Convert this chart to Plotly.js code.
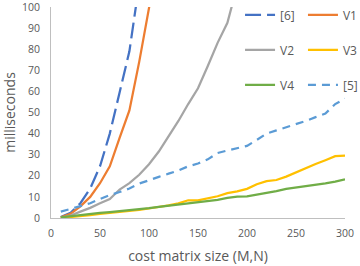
<!DOCTYPE html>
<html>
<head>
<meta charset="utf-8">
<script src="https://cdn.plot.ly/plotly-3.0.1.min.js"></script>
<style>html,body{margin:0;padding:0;background:#fff;}#chart{width:360px;height:266px;}</style>
</head>
<body>
<div id="chart"></div>
<script>
const names = ["[6]", "V1", "V2", "V3", "V4", "[5]"];
const xRef6 = [10, 20, 30, 40, 50, 60, 70, 80, 90];
const yRef6 = [0.5, 2.5, 7, 14, 24.5, 40, 59.5, 79, 111];
const xV1 = [10, 20, 30, 40, 50, 60, 70, 80, 90, 100, 110];
const yV1 = [0.3, 2, 5.5, 10, 16.5, 24.5, 38, 51, 74, 97, 125];
const xV2 = [10, 20, 30, 40, 50, 60, 70, 80, 90, 100, 110, 120, 130, 140, 150, 160, 170, 180, 190];
const yV2 = [0, 1.2, 3, 4.8, 7, 9, 13.5, 16.5, 20.5, 25.5, 31.5, 38.5, 46, 54, 61.5, 72, 83, 92.5, 110];
const xV3 = [10, 20, 30, 40, 50, 60, 70, 80, 90, 100, 110, 120, 130, 140, 150, 160, 170, 180, 190, 200, 210, 220, 230, 240, 250, 260, 270, 280, 290, 300];
const yV3 = [0, 0.4, 0.9, 1.4, 2, 2.4, 2.9, 3.3, 3.8, 4.5, 5.1, 6, 6.9, 8.4, 8.4, 9.2, 10.3, 11.8, 12.6, 13.8, 16, 17.5, 18, 19.6, 21.6, 23.8, 25.6, 27.4, 29.3, 29.6];
const xV4 = [10, 20, 30, 40, 50, 60, 70, 80, 90, 100, 110, 120, 130, 140, 150, 160, 170, 180, 190, 200, 210, 220, 230, 240, 250, 260, 270, 280, 290, 300];
const yV4 = [0.3, 0.9, 1.4, 1.9, 2.4, 2.8, 3.2, 3.7, 4.1, 4.7, 5.3, 5.8, 6.5, 6.9, 7.3, 7.8, 8.6, 9.5, 10.1, 10.2, 11, 12, 12.7, 13.8, 14.4, 15.3, 15.8, 16.4, 17.2, 18.3];
const xRef5 = [10, 20, 30, 40, 50, 60, 70, 80, 90, 100, 110, 120, 130, 140, 150, 160, 170, 180, 190, 200, 210, 220, 230, 240, 250, 260, 270, 280, 290, 300];
const yRef5 = [3, 4.3, 5.5, 7, 9, 10.9, 12.3, 14, 16.3, 18, 19.5, 21, 22.5, 24.5, 25.8, 27.8, 30.8, 32, 33, 34.2, 37, 40, 41.5, 43, 44.3, 46, 47.8, 49.5, 54, 56.5];
const xTickVals = [0, 50, 100, 150, 200, 250, 300];
const yTickVals = [0, 10, 20, 30, 40, 50, 60, 70, 80, 90, 100];

const colors = ["#4472C4", "#ED7D31", "#A5A5A5", "#FFC000", "#70AD47", "#5B9BD5"];
const dashes = ["16px,6px", "solid", "solid", "solid", "solid", "8px,6px"];
const legendOf = ["legend", "legend2", "legend", "legend2", "legend", "legend2"];
const xs = [xRef6, xV1, xV2, xV3, xV4, xRef5];
const ys = [yRef6, yV1, yV2, yV3, yV4, yRef5];

const traces = names.map((n, i) => ({
  type: "scatter", mode: "lines", name: n, x: xs[i], y: ys[i],
  line: {color: colors[i], width: 2.25, dash: dashes[i]},
  legend: legendOf[i], legendgroup: n, hoverinfo: "skip"
}));

const font = {family: "Open Sans, Noto Sans, sans-serif", color: "#595959", size: 10.5};
const legendCommon = {
  orientation: "v", traceorder: "grouped", tracegroupgap: 16,
  bgcolor: "rgba(0,0,0,0)", borderwidth: 0,
  font: {family: "Open Sans, Noto Sans, sans-serif", color: "#595959", size: 12},
  xanchor: "left", yanchor: "top", y: 1.031
};

const layout = {
  width: 360, height: 266,
  margin: {l: 51, r: 15, t: 7, b: 48, autoexpand: false},
  paper_bgcolor: "#ffffff", plot_bgcolor: "#ffffff",
  font: font,
  showlegend: true,
  legend: Object.assign({}, legendCommon, {x: 0.643}),
  legend2: Object.assign({}, legendCommon, {x: 0.857}),
  xaxis: {
    range: [0, 300], tickvals: xTickVals, showgrid: false, zeroline: false,
    showline: true, linecolor: "#BFBFBF", linewidth: 1,
    ticks: "outside", ticklen: 5, tickcolor: "rgba(0,0,0,0)",
    tickfont: font, ticklabeloverflow: "allow",
    title: {text: "cost matrix size (M,N)", font: {family: "Open Sans, Noto Sans, sans-serif", color: "#595959", size: 14}, standoff: 12}
  },
  yaxis: {
    range: [0, 100], tickvals: yTickVals, showgrid: false, zeroline: false,
    showline: true, linecolor: "#BFBFBF", linewidth: 1,
    ticks: "outside", ticklen: 8, tickcolor: "rgba(0,0,0,0)",
    tickfont: font, ticklabeloverflow: "allow",
    title: {text: "milliseconds", font: {family: "Open Sans, Noto Sans, sans-serif", color: "#595959", size: 14}, standoff: 4}
  }
};

Plotly.newPlot("chart", traces, layout, {staticPlot: true, displayModeBar: false});
</script>
</body>
</html>
